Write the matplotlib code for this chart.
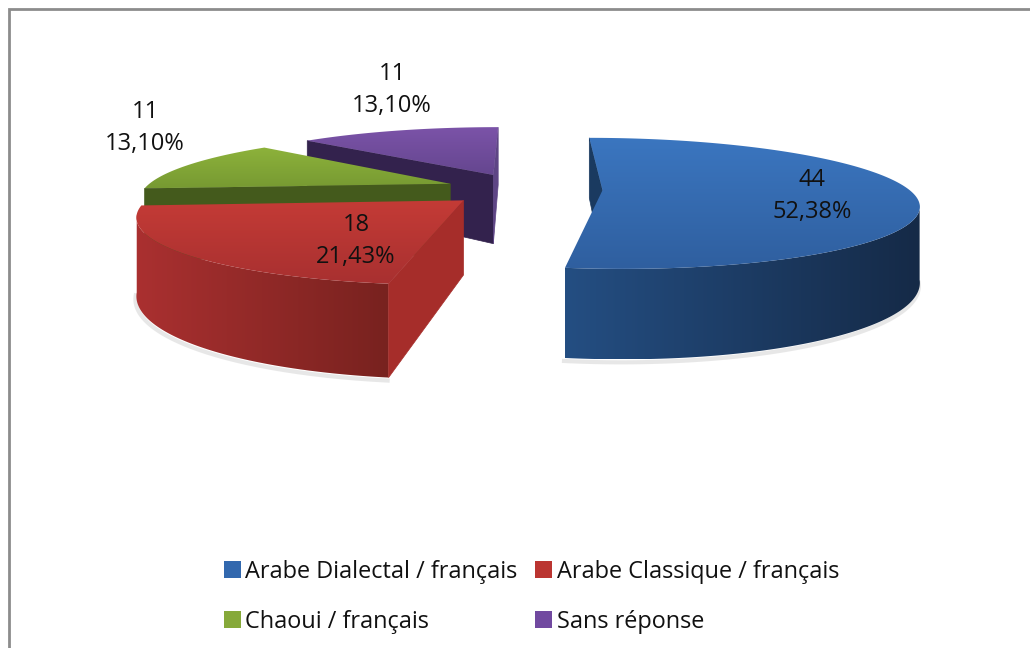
import numpy as np
import matplotlib
matplotlib.use("Agg")
import matplotlib.pyplot as plt
from matplotlib.colors import to_rgb
from matplotlib.patches import Patch, Polygon

# Data
categories = ["Arabe Dialectal / français", "Arabe Classique / français",
              "Chaoui / français", "Sans réponse"]
counts = [44, 18, 11, 11]

# Colours per slice: top surface (back, front), rim (left, right), cut walls (start, end)
top_colors = [("#3b76c0", "#2f5f9f"), ("#c43b36", "#a83030"),
              ("#8db23b", "#779a32"), ("#7b53a8", "#65468f")]
rim_colors = [("#244e82", "#152a47"), ("#aa3030", "#78221f"),
              ("#445a1c", "#445a1c"), ("#33224d", "#33224d")]
wall_colors = [("#1a3a60", "#1a3a60"), ("#a62d2a", "#a62d2a"),
               ("#445a1c", "#445a1c"), ("#33224d", "#5e4585")]
legend_colors = ["#3268ae", "#bb3531", "#86a93a", "#7149a0"]

plt.rcParams["font.family"] = ["Open Sans", "DejaVu Sans"]

# Projection of the tilted pie onto the figure, in pixels
CX, CY = 523.5, 189
RX, RY = 306, 62.4
PERSP = 0.2
HEIGHT = 72
EXPLODE = 0.258


def project(x, y, down=0.0):
    w = 1 + PERSP * np.asarray(y)
    return CX + RX * np.asarray(x) / w, CY - RY * np.asarray(y) / w + down * HEIGHT / w


def fill_gradient(ax, verts, c0, c1, vertical, z):
    verts = np.asarray(verts)
    x0, y0 = verts.min(axis=0)
    x1, y1 = verts.max(axis=0)
    t = np.linspace(0, 1, 128)[:, None]
    grad = np.array(to_rgb(c0)) * (1 - t) + np.array(to_rgb(c1)) * t
    img = grad[:, None, :] if vertical else grad[None, :, :]
    im = ax.imshow(img, extent=(x0, x1, y1, y0), aspect="auto", zorder=z,
                   interpolation="bilinear")
    clip = Polygon(verts, closed=True, transform=ax.transData)
    im.set_clip_path(clip)


fig = plt.figure(figsize=(10.3, 6.48), dpi=100)
ax = fig.add_axes([0, 0, 1, 1])

shares = np.array(counts) / sum(counts)
edges = np.concatenate([[0], np.cumsum(shares)]) * 2 * np.pi

# Back slices first, so the front ones cover them
z = 2
for i in [3, 2, 1, 0]:
    a0, a1 = edges[i], edges[i + 1]
    mid = (a0 + a1) / 2
    ox, oy = EXPLODE * np.sin(mid), EXPLODE * np.cos(mid)
    th = np.linspace(a0, a1, 200)
    rx, ry = ox + np.sin(th), oy + np.cos(th)

    # soft shadow and outer wall, from the widest point of the rim forward
    front = np.cos(th) <= -PERSP
    if front.sum() > 1:
        tx, ty = project(rx[front], ry[front])
        bx, by = project(rx[front], ry[front], 1.0)
        ax.plot(bx - 1, by + 3, color="#e2e2e2", lw=3, alpha=0.8, zorder=1)
        band = np.vstack([np.column_stack([tx, ty]),
                          np.column_stack([bx, by])[::-1]])
        fill_gradient(ax, band, rim_colors[i][0], rim_colors[i][1], False, z)
        z += 1

    # cut walls, only those turned towards the viewer
    for ang, sign, col in [(a0, 1, wall_colors[i][0]), (a1, -1, wall_colors[i][1])]:
        nx, ny = -sign * np.cos(ang), sign * np.sin(ang)
        if nx * (0 - ox) + ny * (-1 / PERSP - oy) <= 0:
            continue
        ex, ey = ox + np.sin(ang), oy + np.cos(ang)
        xs, ys = [ox, ex, ex, ox], [oy, ey, ey, oy]
        downs = [0, 0, 1, 1]
        quad = [project(a, b, d) for a, b, d in zip(xs, ys, downs)]
        ax.add_patch(Polygon(quad, closed=True, facecolor=col, edgecolor=col,
                             lw=0.5, zorder=z))
        z += 1

    # top surface
    px, py = project(np.r_[ox, rx], np.r_[oy, ry])
    fill_gradient(ax, np.column_stack([px, py]), top_colors[i][0], top_colors[i][1], True, z)
    z += 1

# Data labels
label_pos = [(812, 196), (356, 241), (145, 128), (392, 90)]
for count, share, (lx, ly) in zip(counts, shares, label_pos):
    pct = f"{share * 100:.2f}%".replace(".", ",")
    ax.text(lx, ly, f"{count}\n{pct}", ha="center", va="center", fontsize=17,
            color="#111111", linespacing=1.46, zorder=50)

# Legend, filled column by column
order = [0, 2, 1, 3]
handles = [Patch(facecolor=legend_colors[k], edgecolor="none", label=categories[k]) for k in order]
ax.legend(handles=handles, ncol=2, frameon=False, loc="upper left",
          bbox_to_anchor=(224 / 1030, 1 - 560 / 648), fontsize=16.9,
          handlelength=0.71, handleheight=0.71, handletextpad=0.2,
          columnspacing=0.75, labelspacing=1.1, borderpad=0, borderaxespad=0,
          labelcolor="#111111")

# Chart frame
ax.plot([9, 9, 1029], [648, 9, 9], color="#8c8c8c", lw=2, zorder=60, solid_joinstyle="miter")

ax.set_xlim(0, 1030)
ax.set_ylim(648, 0)
ax.axis("off")

fig.savefig("out.png", dpi=100)
